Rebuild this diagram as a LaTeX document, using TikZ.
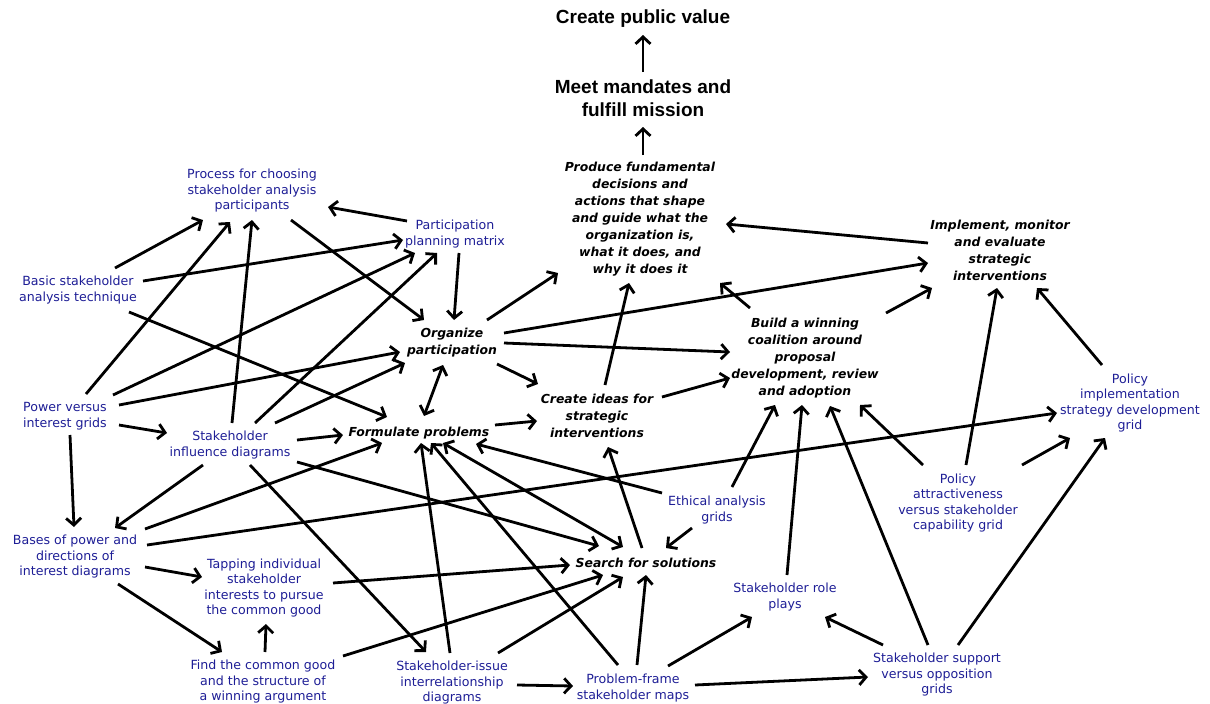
\documentclass[tikz,border=0pt]{standalone}
\usepackage{fontspec}
\usetikzlibrary{arrows.meta,calc}
\newfontfamily\dvs{DejaVu Sans}
\newfontfamily\lsans{Liberation Sans}
\definecolor{navyc}{RGB}{30,30,150}
\tikzset{
  bluetxt/.style={text=navyc, font=\dvs\fontsize{12.6}{15.5}\selectfont, align=center, inner sep=0pt},
  blk/.style={font=\dvs\bfseries\itshape\fontsize{12.4}{17}\selectfont, align=center, inner sep=0pt},
  ttl/.style={font=\lsans\bfseries\fontsize{19}{23}\selectfont, align=center, inner sep=0pt},
  tip/.style={},
  arr/.style={line width=2.8pt, -{Straight Barb[length=7pt,width=15pt]}},
  darr/.style={line width=2.8pt, {Straight Barb[length=7pt,width=15pt]}-{Straight Barb[length=7pt,width=15pt]}},
}
\newcommand\conn[5][arr]{\draw[#1] ($(#2)+(#3)$) -- ($(#4)+(#5)$);}
\begin{document}
\begin{tikzpicture}[x=1pt,y=-1pt]
\useasboundingbox[fill=white] (0,0) rectangle (1210,704);
% titles
\node[ttl] (cpv) at (643,19) {Create public value};
\node[ttl] (mm) at (643,98) {Meet mandates and\\fulfill mission};
% black bold italic nodes
\node[blk] (prod) at (640,219) {Produce fundamental\\decisions and\\actions that shape\\and guide what the\\organization is,\\what it does, and\\why it does it};
\node[blk] (impl) at (1000,250) {Implement, monitor\\and evaluate\\strategic\\interventions};
\node[blk] (org) at (452,343) {Organize\\participation};
\node[blk] (build) at (805,358) {Build a winning\\coalition around\\proposal\\development, review\\and adoption};
\node[blk] (cis) at (597,416) {Create ideas for\\strategic\\interventions};
\node[blk] (form) at (419,433) {Formulate problems};
\node[blk] (search) at (646,563) {Search for solutions};
% blue nodes
\node[bluetxt] (pcp) at (252,191) {Process for choosing\\stakeholder analysis\\participants};
\node[bluetxt] (ppm) at (455,234) {Participation\\planning matrix};
\node[bluetxt] (basic) at (78,290) {Basic stakeholder\\analysis technique};
\node[bluetxt] (pvi) at (65,416) {Power versus\\interest grids};
\node[bluetxt] (sid) at (230,445) {Stakeholder\\influence diagrams};
\node[bluetxt] (bases) at (75,557) {Bases of power and\\directions of\\interest diagrams};
\node[bluetxt] (tap) at (264,588) {Tapping individual\\stakeholder\\interests to pursue\\the common good};
\node[bluetxt] (find) at (263,682) {Find the common good\\and the structure of\\a winning argument};
\node[bluetxt] (sii) at (452,683) {Stakeholder-issue\\interrelationship\\diagrams};
\node[bluetxt] (pfm) at (633,688) {Problem-frame\\stakeholder maps};
\node[bluetxt] (eag) at (717,510) {Ethical analysis\\grids};
\node[bluetxt] (srp) at (785,597) {Stakeholder role\\plays};
\node[bluetxt] (ssvo) at (937,675) {Stakeholder support\\versus opposition\\grids};
\node[bluetxt] (pac) at (958,503) {Policy\\attractiveness\\versus stakeholder\\capability grid};
\node[bluetxt] (pisd) at (1130,403) {Policy\\implementation\\strategy development\\grid};
% connectors
\conn{mm}{0,-26}{cpv}{0,16}
\conn{prod}{3,-64}{mm}{0,29}
\conn{impl}{-72,-7}{prod}{86,5}
\conn{org}{35,-23}{prod}{-82,54}
\conn{cis}{8,-31}{prod}{-11,64}
\conn{build}{-55,-50}{prod}{80,64}
\conn{org}{52,-10}{impl}{-72,13}
\conn{build}{81,-45}{impl}{-68,38}
\conn{org}{52,0}{build}{-75,-6}
\conn{org}{45,21}{cis}{-59,-32}
\conn{cis}{65,-19}{build}{-75,20}
\conn[darr]{org}{-9,22}{form}{5,-17}
\conn{form}{76,-8}{cis}{-60,5}
\conn{pcp}{39,29}{org}{-28,-23}
\conn{ppm}{-48,-13}{pcp}{76,16}
\conn{ppm}{4,19}{org}{2,-23}
\conn{basic}{37,-22}{pcp}{-49,29}
\conn{basic}{65,-9}{ppm}{-52,6}
\conn{basic}{51,22}{form}{-32,-16}
\conn{pvi}{21,-22}{pcp}{-22,31}
\conn{pvi}{48,-21}{ppm}{-40,19}
\conn{pvi}{54,-11}{org}{-52,9}
\conn{pvi}{54,9}{sid}{-63,-12}
\conn{pvi}{5,19}{bases}{-1,-30}
\conn{sid}{2,-22}{pcp}{0,29}
\conn{sid}{25,-22}{ppm}{-18,19}
\conn{sid}{45,-22}{org}{-47,20}
\conn{sid}{67,-5}{form}{-76,2}
\conn{sid}{-27,20}{bases}{40,-29}
\conn{sid}{67,17}{search}{-47,-17}
\conn{sid}{20,20}{sii}{-26,-31}
\conn{bases}{70,-28}{form}{-37,10}
\conn{bases}{72,-12}{pisd}{-73,10}
\conn{bases}{70,10}{tap}{-62,-11}
\conn{bases}{43,27}{find}{-41,-30}
\conn{find}{2,-30}{tap}{2,36}
\conn{tap}{69,-5}{search}{-76,2}
\conn{find}{80,-26}{search}{-43,12}
\conn{sii}{46,-30}{search}{-23,14}
\conn{sii}{-2,-30}{form}{2,10}
\conn{sii}{65,2}{pfm}{-60,-2}
\conn{pfm}{-15,-23}{form}{12,10}
\conn{pfm}{4,-23}{search}{0,12}
\conn{pfm}{35,-22}{srp}{-33,20}
\conn{pfm}{62,-3}{ssvo}{-69,2}
\conn[darr]{form}{24,10}{search}{-23,-16}
\conn{eag}{-55,-17}{form}{57,11}
\conn{eag}{-25,18}{search}{20,-15}
\conn{search}{-4,-15}{cis}{11,31}
\conn{eag}{15,-23}{build}{-30,47}
\conn{srp}{2,-22}{build}{-3,47}
\conn{ssvo}{-9,-30}{build}{25,48}
\conn{ssvo}{-54,-30}{srp}{40,20}
\conn{ssvo}{21,-30}{pisd}{-25,35}
\conn{pac}{-35,-38}{build}{55,47}
\conn{pac}{8,-38}{impl}{-3,38}
\conn{pac}{64,-38}{pisd}{-60,35}
\conn{pisd}{-28,-38}{impl}{37,38}
\end{tikzpicture}
\end{document}
